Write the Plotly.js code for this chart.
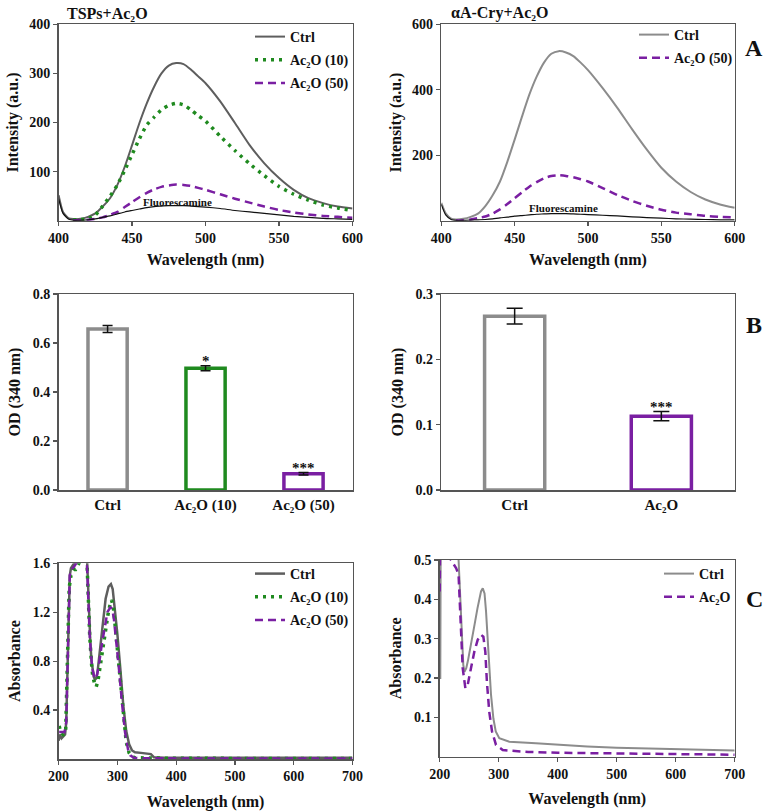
<!DOCTYPE html>
<html>
<head>
<meta charset="utf-8">
<script src="https://cdn.plot.ly/plotly-3.0.1.min.js"></script>
<style>html,body{margin:0;padding:0;background:#fff;}#chart{width:768px;height:812px;}</style>
</head>
<body>
<div id="chart"></div>
<script>
// ---------- Panel A (fluorescence) ----------
const wlA = [400,403,407,410,415,420,425,430,435,440,445,450,455,460,465,470,475,480,485,490,495,500,510,520,530,540,550,560,570,580,590,600];
const wlA2 = [410,415,420,425,430,435,440,445,450,455,460,465,470,475,480,485,490,495,500,510,520,530,540,550,560,570,580,590,600];
// TSPs + Ac2O
const ctrlA1 = [52,18,5,3.5,4,8,15,29,46,73,110,154,199,239,273,300,316,321,319,308,294,280,243,199,154,117,87,63,46,36,29,25];
const fluoA1 = [45,15,3,1,1,2,4,7,10,14,18,21,24,27,29,30,31,31,31,30,29,28,25,21,18,15,12,9,7,5,4,3];
const ac10A1 = [2,2.5,4,12,30,50,73,103,135,167,195,211,226,235,239,236,226,214,203,172,143,116,92,70,54,42,32,26,21];
const ac50A1 = [1,1,2,4,7,12,18,28,38,48,57,64,69,72,74,73,71,67,63,54,45,37,29,22,17,13,10,8,6];
// alphaA-Cry + Ac2O
const ctrlA2 = [55,23,6,4,6,12,22,45,78,120,180,248,318,385,440,483,510,518,514,503,483,460,405,345,280,218,162,120,88,65,50,40];
const fluoA2 = [50,18,3,1,1,2,3,4,6,9,11,14,16,18,20,21,22,22,22,21,20,19,17,15,12,10,8,6,5,4,3,3];
const ac50A2 = [1,2,4,8,13,22,35,51,69,87,104,118,130,137,139,137,133,127,120,100,79,61,46,34,25,20,15,12,10];

// ---------- Panel B (OD 340 nm) ----------
const barCatsL = ['Ctrl','Ac₂O (10)','Ac₂O (50)'];
const barValsL = [0.657,0.497,0.066];
const barErrL = [0.014,0.010,0.005];
const barSigL = ['','*','***'];
const barCatsR = ['Ctrl','Ac₂O'];
const barValsR = [0.266,0.113];
const barErrR = [0.012,0.007];
const barSigR = ['','***'];

// ---------- Panel C (absorbance) ----------
const wlC1ctrl = [200,202,205,208,211,213,215,217,219,221,225,230,240,248,250,252,254,256,258,260,262,264,266,270,275,280,285,289,292,295,300,305,310,315,320,325,330,340,350,357,362,380,450,550,700];
const ctrlC1 = [0.15,0.2,0.17,0.19,0.2,0.3,0.8,1.3,1.5,1.56,1.59,1.62,1.7,1.68,1.4,1.15,0.95,0.8,0.72,0.67,0.65,0.66,0.7,0.88,1.12,1.31,1.41,1.43,1.39,1.27,1.02,0.74,0.44,0.23,0.12,0.07,0.055,0.05,0.045,0.04,0.015,0.01,0.01,0.01,0.01];
const wlC1a10 = [201,204,208,212,215,218,221,226,229,235,240,248,250,253,256,258,261,264,267,270,275,279,284,287,290,293,296,300,305,310,315,320,325,330,350,400,500,600,700];
const a10C1 = [0.27,0.21,0.2,0.22,0.8,1.4,1.5,1.55,1.55,1.6,1.65,1.65,1.35,1.0,0.78,0.68,0.62,0.59,0.64,0.74,0.89,1.03,1.18,1.25,1.3,1.25,1.1,0.85,0.58,0.33,0.14,0.05,0.02,0.01,0.008,0.006,0.005,0.005,0.005];
const wlC1a50 = [201,205,210,213,216,219,222,226,230,240,248,250,253,257,261,264,268,273,278,283,288,291,294,298,303,308,313,318,322,328,340,400,500,600,700];
const a50C1 = [0.22,0.22,0.22,0.3,1.0,1.5,1.55,1.57,1.6,1.65,1.62,1.35,1.0,0.75,0.66,0.66,0.75,0.92,1.08,1.2,1.24,1.23,1.15,0.98,0.72,0.45,0.22,0.08,0.03,0.01,0.006,0.005,0.005,0.005,0.005];
const wlC2ctrl = [200,201,202,210,220,230,232,234,236,238,240,242,245,248,253,259,264,270,273,276,278.5,281,284,287,291,295,301,318,363,400,450,500,600,700];
const ctrlC2 = [0.2,0.2,0.7,0.75,0.7,0.56,0.5,0.44,0.386,0.3,0.233,0.216,0.225,0.245,0.29,0.335,0.377,0.42,0.428,0.415,0.37,0.3,0.233,0.157,0.097,0.064,0.047,0.038,0.034,0.03,0.026,0.023,0.019,0.016];
const wlC2a = [200,201,205,212,219,224,228,232,234.4,236.7,239,243.5,247.4,253,258.7,264.4,270,274,277.3,280,284,288.7,295.4,306.8,350,400,500,600,700];
const aC2 = [0.42,0.6,0.58,0.53,0.5,0.49,0.479,0.462,0.386,0.29,0.225,0.174,0.182,0.225,0.267,0.297,0.31,0.305,0.267,0.19,0.114,0.064,0.03,0.017,0.012,0.01,0.008,0.006,0.005];

// ---------- styling ----------
const FONT = '"Liberation Serif", serif';
const GRAY_D = '#5e5e5e', GRAY_L = '#8c8c8c', GREEN = '#1f8a1f', PURPLE = '#7a1fa2';
const DOTS = '3px,5px', DASHES = '8px,5px';
const AC = 'Ac₂O';

function line(x, y, xa, ya, name, color, width, dash, legend, show, group) {
  return {type:'scatter', mode:'lines', x:x, y:y, xaxis:xa, yaxis:ya, name:name,
    line:{color:color, width:width, dash:dash, shape:'spline', smoothing:0.6},
    legend:legend, showlegend:show, legendgroup:group, hoverinfo:'skip'};
}
function lineL(x, y, xa, ya, name, color, width, dash, legend, show, group) {
  const t = line(x, y, xa, ya, name, color, width, dash, legend, show, group);
  t.line.shape = 'linear';
  return t;
}

const traces = [
  line(wlA, ctrlA1, 'x', 'y', 'Ctrl', GRAY_D, 2, 'solid', 'legend', true, 'a'),
  line(wlA2, ac10A1, 'x', 'y', AC + ' (10)', GREEN, 3.5, DOTS, 'legend', true, 'b'),
  line(wlA2, ac50A1, 'x', 'y', AC + ' (50)', PURPLE, 2.5, DASHES, 'legend', true, 'c'),
  line(wlA, fluoA1, 'x', 'y', 'Fluorescamine', '#111', 1.2, 'solid', 'legend', false, 'd'),

  line(wlA, ctrlA2, 'x2', 'y2', 'Ctrl', GRAY_L, 2, 'solid', 'legend2', true, 'a'),
  line(wlA2, ac50A2, 'x2', 'y2', AC + ' (50)', PURPLE, 2.5, DASHES, 'legend2', true, 'c'),
  line(wlA, fluoA2, 'x2', 'y2', 'Fluorescamine', '#111', 1.2, 'solid', 'legend2', false, 'd'),

  {type:'bar', x:barCatsL, y:barValsL, xaxis:'x3', yaxis:'y3', width:0.4,
    marker:{color:'#fff', line:{color:[GRAY_L, GREEN, PURPLE], width:3.5}},
    error_y:{type:'data', array:barErrL, visible:true, color:'#111', thickness:1.5, width:5},
    showlegend:false, hoverinfo:'skip'},
  {type:'bar', x:barCatsR, y:barValsR, xaxis:'x4', yaxis:'y4', width:0.41,
    marker:{color:'#fff', line:{color:[GRAY_L, PURPLE], width:3.5}},
    error_y:{type:'data', array:barErrR, visible:true, color:'#111', thickness:1.5, width:8},
    showlegend:false, hoverinfo:'skip'},

  lineL(wlC1ctrl, ctrlC1, 'x5', 'y5', 'Ctrl', GRAY_D, 2.5, 'solid', 'legend3', true, 'a'),
  lineL(wlC1a10, a10C1, 'x5', 'y5', AC + ' (10)', GREEN, 3.5, DOTS, 'legend3', true, 'b'),
  lineL(wlC1a50, a50C1, 'x5', 'y5', AC + ' (50)', PURPLE, 2.5, DASHES, 'legend3', true, 'c'),

  lineL(wlC2ctrl, ctrlC2, 'x6', 'y6', 'Ctrl', GRAY_L, 2, 'solid', 'legend4', true, 'a'),
  lineL(wlC2a, aC2, 'x6', 'y6', AC, PURPLE, 2.5, DASHES, 'legend4', true, 'c')
];

const W = 768, H = 812;
const px = v => v / W, py = v => 1 - v / H;

function fnt(size) { return {family:FONT, size:size, color:'#111', weight:'bold'}; }
function axisBase(extra) {
  return Object.assign({
    showline:true, mirror:true, linecolor:'#555', linewidth:1.5,
    ticks:'outside', ticklen:4, tickcolor:'#555', tickwidth:1.2,
    showgrid:false, zeroline:false,
    tickfont:fnt(14)
  }, extra);
}
function ttl(a, text, standoff) { a.title = {text:text, standoff:standoff, font:fnt(16)}; return a; }

const xL = [px(58.6), px(352.5)], xR = [px(441.3), px(734.7)], xRC = [px(439.7), px(734.7)];
const yA = [py(220.8), py(24.3)], yB = [py(490), py(294)], yCL = [py(759), py(563.3)], yCR = [py(756.7), py(560)];

function legendAt(xpx, ypx) {
  return {x:px(xpx), y:py(ypx), xanchor:'left', yanchor:'top', bgcolor:'rgba(0,0,0,0)',
    font:fnt(14), tracegroupgap:2, itemwidth:30};
}

const layout = {
  width:W, height:H, margin:{l:0, r:0, t:0, b:0},
  paper_bgcolor:'#fff', plot_bgcolor:'#fff',
  font:fnt(14),
  xaxis: ttl(axisBase({domain:xL, anchor:'y', range:[400,600], tickvals:[400,450,500,550,600]}), 'Wavelength (nm)', 8),
  yaxis: ttl(axisBase({domain:yA, anchor:'x', range:[0,400], tickvals:[100,200,300,400]}), 'Intensity (a.u.)', 6),
  xaxis2: ttl(axisBase({domain:xR, anchor:'y2', range:[400,600], tickvals:[400,450,500,550,600]}), 'Wavelength (nm)', 8),
  yaxis2: ttl(axisBase({domain:yA, anchor:'x2', range:[0,600], tickvals:[200,400,600]}), 'Intensity (a.u.)', 6),
  xaxis3: axisBase({domain:xL, anchor:'y3', type:'category', range:[-0.5,2.5], ticks:'', tickfont:fnt(15)}),
  yaxis3: ttl(axisBase({domain:yB, anchor:'x3', range:[0,0.8], tickvals:[0,0.2,0.4,0.6,0.8], tickformat:'.1f'}), 'OD (340 nm)', 8),
  xaxis4: axisBase({domain:xR, anchor:'y4', type:'category', range:[-0.5,1.5], ticks:'', tickfont:fnt(15)}),
  yaxis4: ttl(axisBase({domain:yB, anchor:'x4', range:[0,0.3], tickvals:[0,0.1,0.2,0.3], tickformat:'.1f'}), 'OD (340 nm)', 8),
  xaxis5: ttl(axisBase({domain:xL, anchor:'y5', range:[200,700], tickvals:[200,300,400,500,600,700]}), 'Wavelength (nm)', 12),
  yaxis5: ttl(axisBase({domain:yCL, anchor:'x5', range:[0,1.6], tickvals:[0.4,0.8,1.2,1.6], tickformat:'.1f'}), 'Absorbance', 8),
  xaxis6: ttl(axisBase({domain:xRC, anchor:'y6', range:[200,700], tickvals:[200,300,400,500,600,700]}), 'Wavelength (nm)', 12),
  yaxis6: ttl(axisBase({domain:yCR, anchor:'x6', range:[0,0.5], tickvals:[0.1,0.2,0.3,0.4,0.5], tickformat:'.1f'}), 'Absorbance', 8),
  legend: legendAt(250, 21),
  legend2: legendAt(634, 19),
  legend3: legendAt(250, 558),
  legend4: legendAt(659, 558),
  annotations: [
    {xref:'paper', yref:'paper', x:px(65), y:py(13), xanchor:'left', yanchor:'middle', showarrow:false,
      text:'TSPs+' + AC, font:fnt(16)},
    {xref:'paper', yref:'paper', x:px(449), y:py(13), xanchor:'left', yanchor:'middle', showarrow:false,
      text:'αA-Cry+' + AC, font:fnt(16)},
    {xref:'paper', yref:'paper', x:px(754), y:py(48), xanchor:'center', yanchor:'middle', showarrow:false,
      text:'A', font:fnt(24)},
    {xref:'paper', yref:'paper', x:px(754), y:py(325), xanchor:'center', yanchor:'middle', showarrow:false,
      text:'B', font:fnt(24)},
    {xref:'paper', yref:'paper', x:px(754), y:py(599), xanchor:'center', yanchor:'middle', showarrow:false,
      text:'C', font:fnt(24)},
    {xref:'x', yref:'y', x:481, y:39, showarrow:false, yanchor:'middle', text:'Fluorescamine', font:fnt(11)},
    {xref:'x2', yref:'y2', x:483.5, y:38, showarrow:false, yanchor:'middle', text:'Fluorescamine', font:fnt(11)}
  ]
};
barCatsL.forEach((c, i) => { if (barSigL[i]) layout.annotations.push({xref:'x3', yref:'y3', x:c, y:barValsL[i] + barErrL[i],
  yanchor:'bottom', yshift:-5, showarrow:false, text:barSigL[i], font:fnt(15)}); });
barCatsR.forEach((c, i) => { if (barSigR[i]) layout.annotations.push({xref:'x4', yref:'y4', x:c, y:barValsR[i] + barErrR[i],
  yanchor:'bottom', yshift:-5, showarrow:false, text:barSigR[i], font:fnt(15)}); });

Plotly.newPlot('chart', traces, layout, {staticPlot:true, displayModeBar:false});
</script>
</body>
</html>
